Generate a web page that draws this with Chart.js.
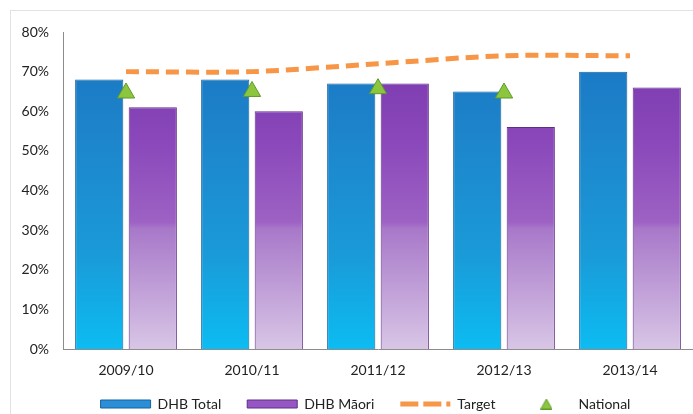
<!DOCTYPE html>
<html>
<head>
<meta charset="utf-8">
<script src="https://cdn.jsdelivr.net/npm/chart.js@4"></script>
<style>
  html, body { margin: 0; padding: 0; background: #fff; }
  #wrap { position: relative; width: 693px; height: 414px; overflow: hidden; }
  #frame { position: absolute; left: 10px; top: 10px; width: 700px; height: 420px;
           border-left: 1px solid #e2e2e2; border-top: 1px solid #e2e2e2; }
  #cv { position: absolute; left: 0; top: 0; }
</style>
</head>
<body>
<div id="wrap">
  <div id="frame"></div>
  <canvas id="cv" width="693" height="414"></canvas>
</div>
<script>
//Data
const years = ["2009/10", "2010/11", "2011/12", "2012/13", "2013/14"];
const dhbTotal = [68, 68, 67, 65, 70];
const dhbMaori = [61, 60, 67, 56, 66];
const target = [70, 70, 72, 74, 74];
const national = [64.6, 65, 65.7, 64.6, null];
const yTicks = [0, 10, 20, 30, 40, 50, 60, 70, 80];

const fontFam = "Lato, 'Open Sans', sans-serif";

//Gradients run over the plot height
function blueGrad(ctx) {
    const area = ctx.chart.chartArea;
    if (!area) return '#1a86cc';
    const g = ctx.chart.ctx.createLinearGradient(0, area.top, 0, area.bottom);
    g.addColorStop(0, '#1a74c2');
    g.addColorStop(0.35, '#1d86cc');
    g.addColorStop(0.7, '#1a9ad8');
    g.addColorStop(1, '#0cbcf2');
    return g;
}

function purpleGrad(ctx) {
    const area = ctx.chart.chartArea;
    if (!area) return '#8a4cbc';
    const g = ctx.chart.ctx.createLinearGradient(0, area.top, 0, area.bottom);
    g.addColorStop(0, '#7636aa');
    g.addColorStop(0.35, '#8a48ba');
    g.addColorStop(0.6, '#9d62c4');
    g.addColorStop(0.62, '#a878c9');
    g.addColorStop(1, '#d8c6e6');
    return g;
}

//Small triangle for the legend (the built-in one stretches with pointStyleWidth)
const triIcon = document.createElement('canvas');
triIcon.width = 12;
triIcon.height = 11;
(function () {
    const c = triIcon.getContext('2d');
    c.beginPath();
    c.moveTo(6, 0.5);
    c.lineTo(11.5, 10.5);
    c.lineTo(0.5, 10.5);
    c.closePath();
    c.fillStyle = '#8cc63f';
    c.fill();
    c.strokeStyle = '#5e9a2c';
    c.lineWidth = 1;
    c.stroke();
})();

//Legend: fixed height, then nudged up and right like the original
const legendFit = {
    id: 'legendFit',
    beforeInit(chart) {
        const orig = chart.legend.fit;
        chart.legend.fit = function () {
            orig.bind(chart.legend)();
            this.height = 35;
        };
    },
    afterLayout(chart) {
        const lg = chart.legend;
        lg.top -= 8;
        lg.left += 19;
        lg.right += 19;
    }
};

const data = {
    labels: years,
    datasets: [
        {
            label: 'DHB Total',
            data: dhbTotal,
            backgroundColor: blueGrad,
            borderColor: '#16609e',
            borderWidth: 1,
            order: 3,
            categoryPercentage: 0.85,
            barPercentage: 0.9
        },
        {
            label: 'DHB Māori',
            data: dhbMaori,
            backgroundColor: purpleGrad,
            borderColor: '#5e2e86',
            borderWidth: 1,
            order: 3,
            categoryPercentage: 0.85,
            barPercentage: 0.9
        },
        {
            type: 'line',
            label: 'Target',
            data: target,
            borderColor: '#f79646',
            backgroundColor: '#f79646',
            borderWidth: 5,
            borderDash: [13, 7],
            pointRadius: 0,
            tension: 0.3,
            fill: false,
            order: 2
        },
        {
            type: 'line',
            label: 'National',
            data: national,
            showLine: false,
            pointStyle: 'triangle',
            pointRadius: 10,
            backgroundColor: '#8cc63f',
            borderColor: '#5e9a2c',
            borderWidth: 1,
            order: 1
        }
    ]
};

const options = {
    responsive: false,
    animation: false,
    layout: { autoPadding: false, padding: { top: 32, left: 0, right: 0, bottom: 0 } },
    scales: {
        x: {
            grid: { display: false, drawTicks: false },
            border: { display: true, color: '#8c8c8c', width: 1 },
            ticks: { color: '#222', padding: 13, font: { family: fontFam, size: 14 } },
            afterFit: s => { s.height = 30; }
        },
        y: {
            min: 0,
            max: 80,
            grid: { display: false, drawTicks: false },
            border: { display: true, color: '#8c8c8c', width: 1 },
            afterBuildTicks: s => { s.ticks = yTicks.map(v => ({ value: v })); },
            ticks: {
                color: '#222',
                padding: 14,
                font: { family: fontFam, size: 14 },
                callback: v => v + '%'
            },
            afterFit: s => { s.width = 63; }
        }
    },
    plugins: {
        tooltip: { enabled: false },
        legend: {
            position: 'bottom',
            labels: {
                color: '#222',
                font: { family: fontFam, size: 14 },
                usePointStyle: true,
                pointStyleWidth: 50,
                boxHeight: 8,
                padding: 26,
                sort: (a, b) => a.datasetIndex - b.datasetIndex,
                generateLabels: chart => {
                    const items = Chart.defaults.plugins.legend.labels.generateLabels(chart);
                    items.forEach(it => {
                        if (it.datasetIndex === 0) {
                            it.pointStyle = 'rect'; it.fillStyle = '#2a8fd6'; it.strokeStyle = '#16609e'; it.lineWidth = 1;
                        } else if (it.datasetIndex === 1) {
                            it.pointStyle = 'rect'; it.fillStyle = '#9656c4'; it.strokeStyle = '#5e2e86'; it.lineWidth = 1;
                        } else if (it.datasetIndex === 2) {
                            it.pointStyle = 'line'; it.strokeStyle = '#f79646'; it.lineWidth = 5; it.lineDash = [18, 5];
                        } else {
                            it.pointStyle = triIcon;
                        }
                    });
                    return items;
                }
            }
        }
    }
};

const chart = new Chart(document.getElementById('cv'), {
    type: 'bar',
    data: data,
    options: options,
    plugins: [legendFit]
});
</script>
</body>
</html>
